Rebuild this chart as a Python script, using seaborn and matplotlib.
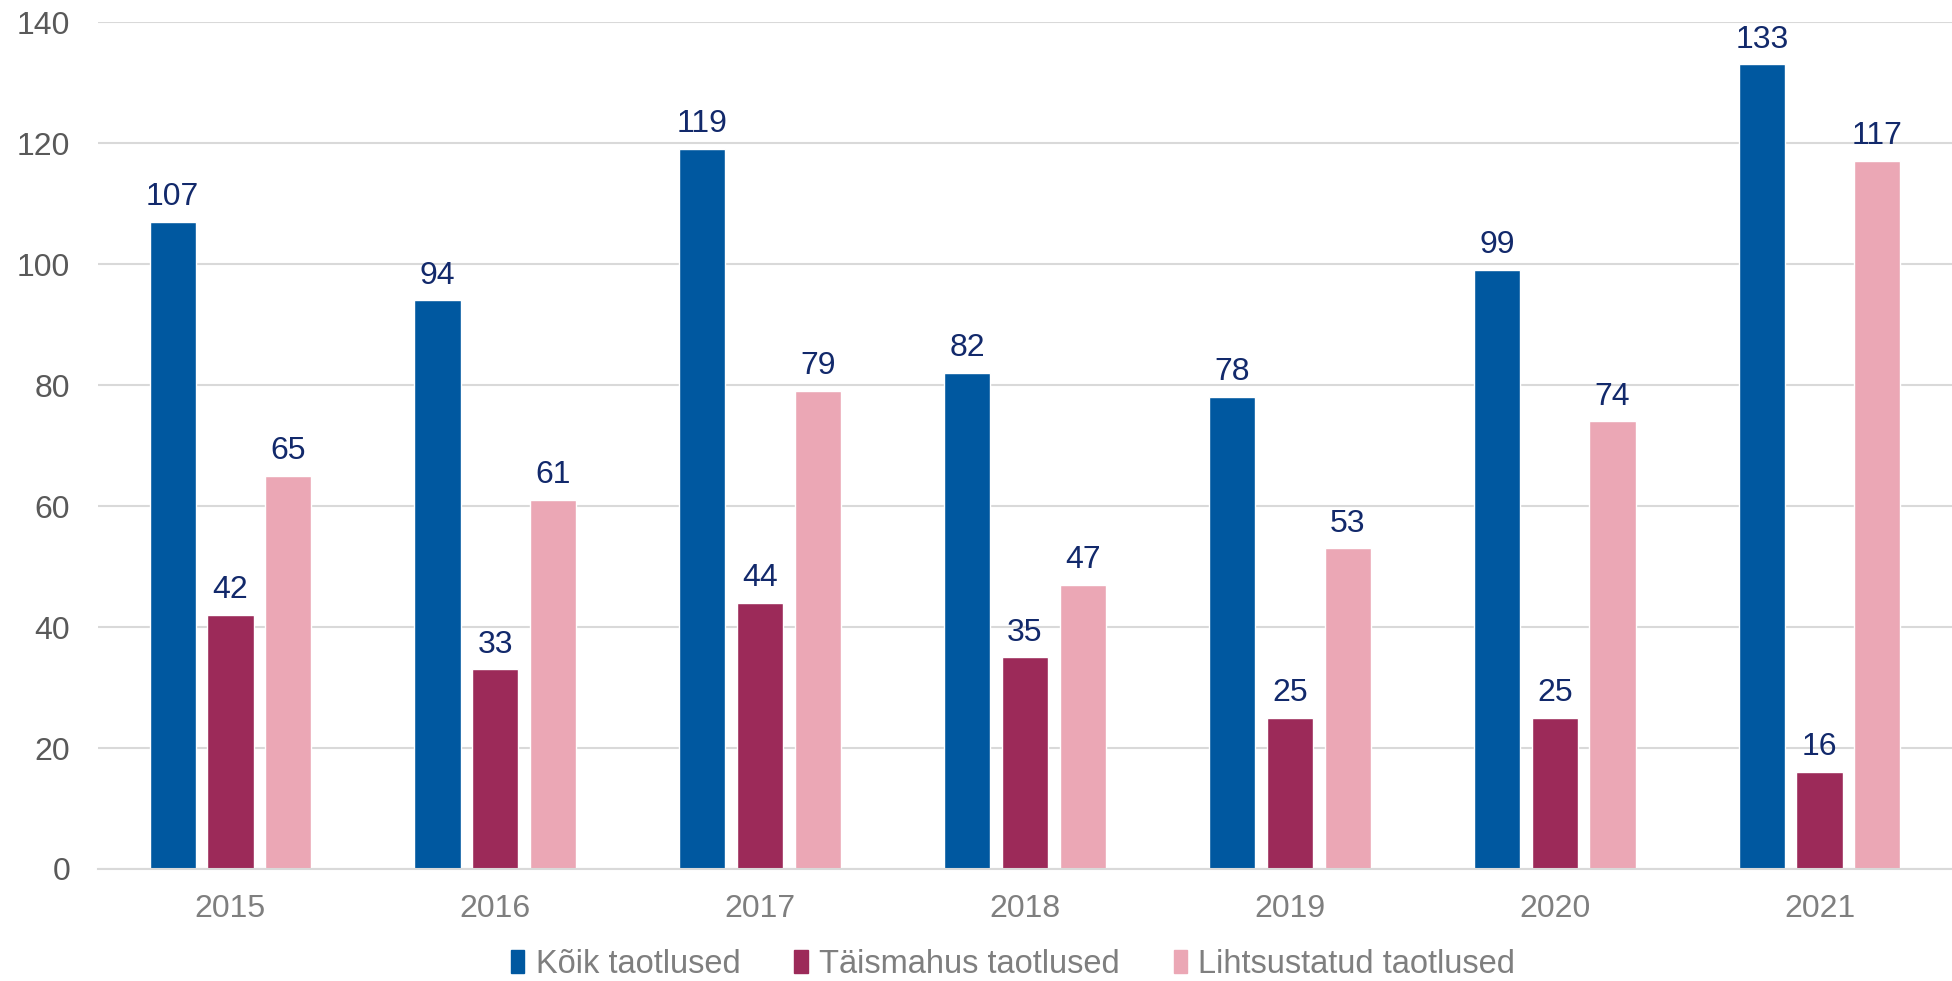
import matplotlib
matplotlib.use("Agg")
import matplotlib.pyplot as plt
import seaborn as sns
import pandas as pd

# andmed
years = ["2015", "2016", "2017", "2018", "2019", "2020", "2021"]
koik = [107, 94, 119, 82, 78, 99, 133]
taismahus = [42, 33, 44, 35, 25, 25, 16]
lihtsustatud = [65, 61, 79, 47, 53, 74, 117]
series_names = ["Kõik taotlused", "Täismahus taotlused", "Lihtsustatud taotlused"]
colors = ["#0058A0", "#9C2A59", "#EBA7B5"]

df = pd.DataFrame({
    "aasta": years * 3,
    "seeria": [series_names[0]] * 7 + [series_names[1]] * 7 + [series_names[2]] * 7,
    "arv": koik + taismahus + lihtsustatud,
})

sns.set_style("white")
plt.rcParams["font.family"] = ["Liberation Sans", "DejaVu Sans"]

fig = plt.figure(figsize=(19.52, 9.81), dpi=100)
ax = fig.add_axes([98 / 1952, 1 - 869 / 981, 1 - 98 / 1952, (869 - 22) / 981])

sns.barplot(data=df, x="aasta", y="arv", hue="seeria", palette=colors,
            width=0.654, gap=0.2, saturation=1, ax=ax, legend=False)

for cont in ax.containers:
    ax.bar_label(cont, padding=7, fontsize=23, color="#12296B")

ax.set_ylim(0, 140)
ax.set_yticks(range(0, 141, 20))
ax.set_xlim(-0.5, 6.5)
ax.set_xlabel("")
ax.set_ylabel("")
ax.yaxis.grid(True, color="#D9D9D9", linewidth=1.5)
ax.set_axisbelow(True)
for s in ["top", "right", "left"]:
    ax.spines[s].set_visible(False)
ax.spines["bottom"].set_color("#D9D9D9")
ax.spines["bottom"].set_linewidth(1.5)
ax.tick_params(axis="y", length=0, pad=20, labelsize=23, labelcolor="#595959")
ax.tick_params(axis="x", length=0, pad=18, labelsize=23, labelcolor="#7F7F7F")

handles = [plt.Rectangle((0, 0), 1, 1, color=c) for c in colors]
fig.legend(handles, series_names, loc="center", bbox_to_anchor=(0.519, 0.017),
           ncol=3, frameon=False, fontsize=23.5, labelcolor="#7F7F7F",
           handlelength=0.41, handleheight=0.69, handletextpad=0.35,
           columnspacing=1.65)

fig.savefig("out.png", dpi=100)
